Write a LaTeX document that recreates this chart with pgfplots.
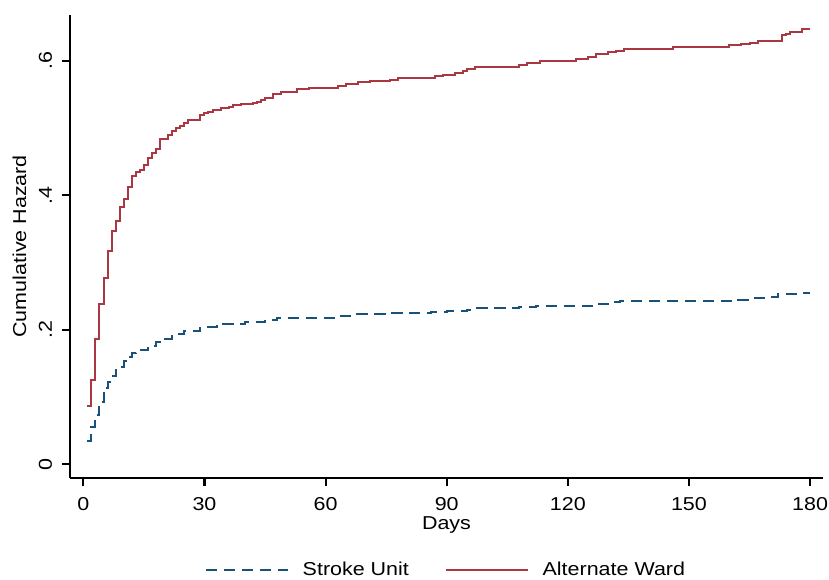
\documentclass[border=0pt]{standalone}
\usepackage{pgfplots}
\pgfplotsset{compat=1.18}
\usepackage{fontspec}
\setmainfont{Liberation Sans}[FakeStretch=1.15]

\definecolor{strokeblue}{RGB}{24,82,122}
\definecolor{wardred}{RGB}{170,55,65}

\begin{document}
\fontsize{14pt}{17pt}\selectfont
\begin{tikzpicture}
\useasboundingbox (-52.5pt,-76pt) rectangle (569.25pt,358.3pt);
\begin{axis}[
  scale only axis,
  width=564.75pt, height=347pt,
  xmin=-3.3, xmax=183.2,
  ymin=-0.02, ymax=0.668,
  axis lines=left,
  axis line style={-, line width=1.6pt, black},
  tick style={line width=1.6pt, black},
  tick align=outside,
  major tick length=6pt,
  xtick={0,30,60,90,120,150,180},
  xticklabels={0,30,60,90,120,150,180},
  ytick={0,0.2,0.4,0.6},
  yticklabels={0,.2,.4,.6},
  xticklabel style={anchor=base, yshift=-18.75pt},
  yticklabel style={xshift=-7.5pt, rotate=90, anchor=base},
  xlabel={Days},
  ylabel={Cumulative Hazard},
  xlabel style={at={(axis description cs:0.5,-0.1115)}, anchor=base},
  ylabel style={at={(axis description cs:-0.05843,0.5)}, rotate=0, anchor=base},
  legend columns=2,
  legend image code/.code={\draw[#1] (0pt,0pt) -- (61.5pt,0pt);},
  legend style={
    at={(axis description cs:0.1793,-0.1995)}, anchor=west,
    draw=none, fill=none, inner sep=0pt, outer sep=0pt,
    nodes={inner sep=0pt},
    /tikz/every odd column/.append style={column sep=10.3pt},
    /tikz/every even column/.append style={column sep=27pt},
  },
]
% Stroke unit: Nelson-Aalen cumulative hazard (step function)
\addplot[const plot, color=strokeblue, line width=1.5pt, dash pattern=on 8.5pt off 5pt]
coordinates {
(1,0.034) (2,0.056) (3,0.073) (4,0.093) (5,0.113) (6,0.123) (7,0.131) (8,0.140)
(9,0.145) (10,0.153) (11,0.159) (12,0.166) (13,0.170) (16,0.176) (18,0.182)
(19,0.187) (22,0.193) (25,0.198) (29,0.204) (33,0.208) (40,0.212) (45,0.215)
(48,0.218) (63,0.221) (66,0.223) (76,0.2245) (81,0.225) (86,0.227) (90,0.228)
(95,0.230) (97,0.232) (108,0.234) (112,0.236) (126,0.239) (130,0.241) (133,0.243)
(162,0.245) (166,0.247) (170,0.249) (172,0.253) (178,0.254) (180,0.254)
};
\addlegendentry{Stroke Unit}
% Alternate ward
\addplot[const plot, color=wardred, line width=1.5pt]
coordinates {
(1,0.086) (2,0.126) (3,0.186) (4,0.238) (5,0.277) (6,0.317) (7,0.347) (8,0.362)
(9,0.382) (10,0.394) (11,0.412) (12,0.428) (13,0.434) (14,0.438) (15,0.445)
(16,0.456) (17,0.463) (18,0.469) (19,0.483) (21,0.490) (22,0.496) (23,0.500)
(24,0.503) (25,0.507) (26,0.512) (29,0.520) (30,0.522) (31,0.524) (32,0.527)
(34,0.530) (36,0.532) (37,0.534) (39,0.536) (42,0.537) (43,0.539) (44,0.542)
(45,0.545) (47,0.551) (49,0.553) (53,0.558) (56,0.559) (63,0.562) (65,0.566)
(68,0.568) (71,0.570) (76,0.572) (78,0.575) (87,0.577) (89,0.579) (92,0.582)
(94,0.585) (95,0.588) (97,0.591) (108,0.594) (110,0.596) (113,0.600) (122,0.602)
(125,0.605) (127,0.610) (130,0.613) (132,0.615) (134,0.618) (146,0.620)
(160,0.623) (163,0.625) (165,0.627) (167,0.630) (173,0.638) (174,0.640)
(175,0.643) (178,0.648) (180,0.648)
};
\addlegendentry{Alternate Ward}
\end{axis}
\end{tikzpicture}
\end{document}
